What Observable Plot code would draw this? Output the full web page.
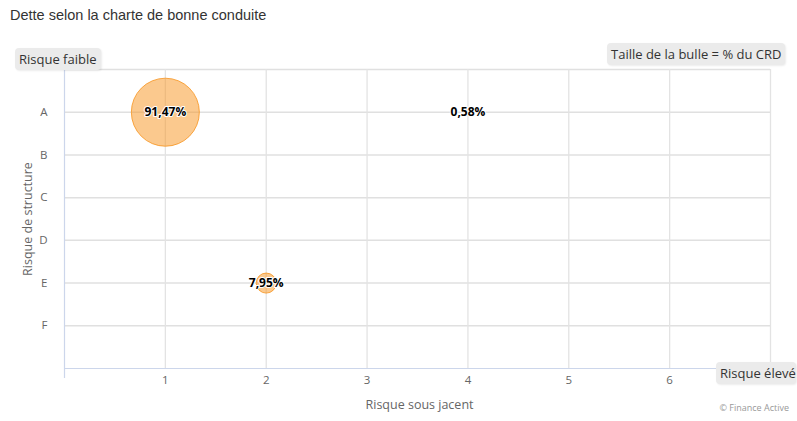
<!DOCTYPE html>
<html>
<head>
<meta charset="utf-8">
<script src="https://cdn.jsdelivr.net/npm/d3@7"></script>
<script src="https://cdn.jsdelivr.net/npm/@observablehq/plot@0.6"></script>
<style>
  html, body { margin: 0; padding: 0; background: #fff; }
  #wrap { position: relative; width: 797px; height: 421px; overflow: hidden; font-family: "Open Sans", sans-serif; }
  #title { position: absolute; left: 10px; top: 7px; font-family: "Liberation Sans", Arial, sans-serif; font-size: 14.5px; color: #333; }
  .box { position: absolute; background: #ebebeb; border-radius: 4px; color: #333; font-size: 13px; line-height: 22px; padding: 0 4px; white-space: nowrap; box-shadow: 1px 1px 2px rgba(0,0,0,0.08); }
  #credit { position: absolute; right: 8px; top: 401px; font-size: 9px; color: #999; }
</style>
</head>
<body>
<div id="wrap">
  <div id="chart"></div>
  <div id="title">Dette selon la charte de bonne conduite</div>
  <div class="box" style="left:15px; top:48px;">Risque faible</div>
  <div class="box" style="left:607px; top:43px;">Taille de la bulle = % du CRD</div>
  <div class="box" style="left:716px; top:362px; padding-right:0;">Risque élevé</div>
  <div id="credit">© Finance Active</div>
</div>
<script>
const yLabels = ["A", "B", "C", "D", "E", "F"];
const xTicks = [1, 2, 3, 4, 5, 6];
const risqueSousJacent = [1, 4, 2];
const risqueStructure = ["A", "A", "E"];
const partCRD = [91.47, 0.58, 7.95];
const labelsCRD = ["91,47%", "0,58%", "7,95%"];

const data = risqueSousJacent.map((x, i) => ({
  x,
  y: yLabels.indexOf(risqueStructure[i]) + 1,
  v: partCRD[i],
  label: labelsCRD[i]
}));

const yGrid = [0, 1, 2, 3, 4, 5, 6];
const xGrid = [1, 2, 3, 4, 5, 6, 7];

const chart = Plot.plot({
  width: 797,
  height: 421,
  marginLeft: 64,
  marginRight: 27,
  marginTop: 69,
  marginBottom: 53,
  style: { fontFamily: "Open Sans, sans-serif", background: "transparent" },
  x: { domain: [0, 7] },
  y: { domain: [0, 7], reverse: true },
  r: { domain: [0, 91.47], range: [0, 34] },
  marks: [
    Plot.ruleY(yGrid, { stroke: "#e0e0e0", strokeWidth: 1.5 }),
    Plot.ruleX(xGrid, { stroke: "#e3e3e3", strokeWidth: 1.3 }),
    Plot.ruleY([7], { stroke: "#ccd6eb", strokeWidth: 1.2 }),
    Plot.ruleX([0], { y1: 0, y2: 7, stroke: "#ccd6eb", strokeWidth: 1.2 }),
    Plot.ruleX([0], { y1: 7, y2: 7, insetBottom: -10, stroke: "#ccd6eb", strokeWidth: 1.2 }),
    Plot.axisX(xTicks, { tickSize: 0, tickPadding: 7, fontSize: 11.5, fill: "#666", label: null }),
    Plot.axisY(yGrid.slice(1), { tickSize: 0, tickPadding: 17, fontSize: 11.5, fill: "#666", tickFormat: d => yLabels[d - 1], label: null }),
    Plot.text(["Risque sous jacent"], { frameAnchor: "bottom", dy: 40, fontSize: 12.5, fill: "#666", dx: 2 }),
    Plot.text(["Risque de structure"], { frameAnchor: "left", textAnchor: "middle", dx: -37, rotate: -90, fontSize: 12.5, fill: "#666" }),
    Plot.dot(data, { x: "x", y: "y", r: "v", fill: "#f7941d", fillOpacity: 0.5, stroke: "#f7941d", strokeOpacity: 0.8, strokeWidth: 1 }),
    Plot.text(data, { x: "x", y: "y", text: "label", fontSize: 12, fontWeight: "bold", fill: "#000", stroke: "#fff", strokeWidth: 2, paintOrder: "stroke" })
  ]
});
document.getElementById("chart").appendChild(chart);
</script>
</body>
</html>
